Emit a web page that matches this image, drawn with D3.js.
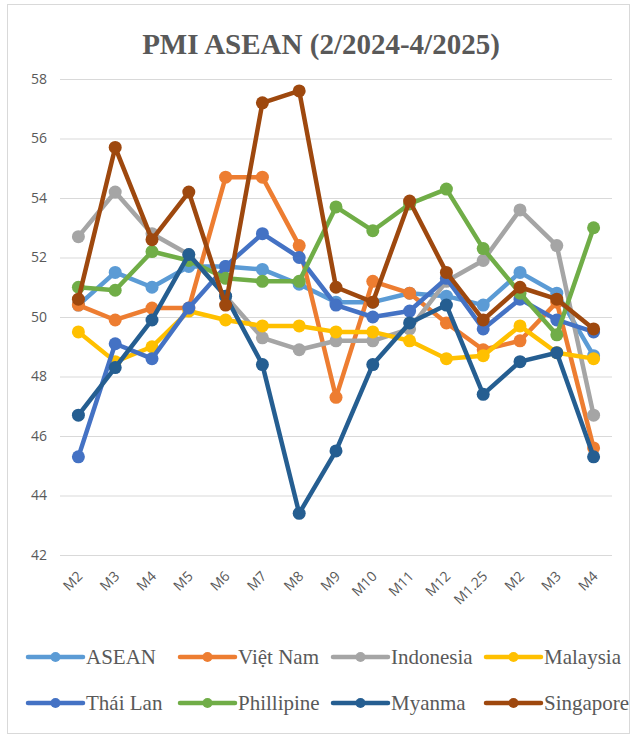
<!DOCTYPE html>
<html>
<head>
<meta charset="utf-8">
<script src="https://cdn.jsdelivr.net/npm/d3@7"></script>
<style>
  body { margin: 0; background: #fff; }
  svg { display: block; }
</style>
</head>
<body>
<svg id="chart" width="635" height="738"></svg>
<script>
/* PMI ASEAN line chart */

const months = ['M2', 'M3', 'M4', 'M5', 'M6', 'M7', 'M8', 'M9', 'M10', 'M11', 'M12', 'M1.25', 'M2', 'M3', 'M4'];
const yTicks = [42, 44, 46, 48, 50, 52, 54, 56, 58];

const asean     = [50.4, 51.5, 51.0, 51.7, 51.7, 51.6, 51.1, 50.5, 50.5, 50.8, 50.7, 50.4, 51.5, 50.8, 48.7];
const vietnam   = [50.4, 49.9, 50.3, 50.3, 54.7, 54.7, 52.4, 47.3, 51.2, 50.8, 49.8, 48.9, 49.2, 50.5, 45.6];
const indonesia = [52.7, 54.2, 52.8, 52.1, 50.7, 49.3, 48.9, 49.2, 49.2, 49.6, 51.2, 51.9, 53.6, 52.4, 46.7];
const malaysia  = [49.5, 48.5, 49.0, 50.2, 49.9, 49.7, 49.7, 49.5, 49.5, 49.2, 48.6, 48.7, 49.7, 48.8, 48.6];
const thailand  = [45.3, 49.1, 48.6, 50.3, 51.7, 52.8, 52.0, 50.4, 50.0, 50.2, 51.3, 49.6, 50.6, 49.9, 49.5];
const philippines = [51.0, 50.9, 52.2, 51.9, 51.3, 51.2, 51.2, 53.7, 52.9, 53.8, 54.3, 52.3, 50.8, 49.4, 53.0];
const myanmar   = [46.7, 48.3, 49.9, 52.1, 50.7, 48.4, 43.4, 45.5, 48.4, 49.8, 50.4, 47.4, 48.5, 48.8, 45.3];
const singapore = [50.6, 55.7, 52.6, 54.2, 50.4, 57.2, 57.6, 51.0, 50.5, 53.9, 51.5, 49.9, 51.0, 50.6, 49.6];

const seriesNames = ['ASEAN', 'Việt Nam', 'Indonesia', 'Malaysia', 'Thái Lan', 'Phillipine', 'Myanma', 'Singapore'];
const seriesValues = [asean, vietnam, indonesia, malaysia, thailand, philippines, myanmar, singapore];
const seriesColors = ['#5B9BD5', '#ED7D31', '#A5A5A5', '#FFC000', '#4472C4', '#70AD47', '#255E91', '#9E480E'];

const svg = d3.select('#chart');
const textGray = '#595959';

// Outer chart border
svg.append('rect')
  .attr('x', 7.5).attr('y', 4.5)
  .attr('width', 622).attr('height', 729)
  .attr('fill', '#fff')
  .attr('stroke', '#d9d9d9')
  .attr('stroke-width', 1);

// Title
svg.append('text')
  .attr('x', 321).attr('y', 54)
  .attr('text-anchor', 'middle')
  .attr('font-family', '"Liberation Serif", "Times New Roman", serif')
  .attr('font-weight', 'bold')
  .attr('font-size', 29)
  .attr('fill', textGray)
  .text('PMI ASEAN (2/2024-4/2025)');

const plot = { left: 60, right: 612, top: 79, bottom: 555 };

const x = d3.scaleBand()
  .domain(d3.range(months.length))
  .range([plot.left, plot.right]);

const y = d3.scaleLinear()
  .domain([42, 58])
  .range([plot.bottom, plot.top]);

const cx = i => x(i) + x.bandwidth() / 2;

// Gridlines + y labels
const yAxis = d3.axisLeft(y)
  .tickValues(yTicks)
  .tickSize(-(plot.right - plot.left))
  .tickPadding(13)
  .tickFormat(d3.format('d'));

const yG = svg.append('g')
  .attr('transform', `translate(${plot.left},0)`)
  .call(yAxis);
yG.select('.domain').remove();
yG.selectAll('.tick line').attr('stroke', '#d9d9d9').attr('stroke-width', 1.2);
yG.selectAll('.tick text')
  .attr('font-family', '"Open Sans", "Liberation Sans", sans-serif')
  .attr('font-size', 14)
  .attr('fill', textGray);

// X labels (rotated)
const xAxis = d3.axisBottom(x)
  .tickSize(0)
  .tickFormat(i => months[i]);

const xG = svg.append('g')
  .attr('transform', `translate(0,${plot.bottom})`)
  .call(xAxis);
xG.select('.domain').remove();
xG.selectAll('.tick text')
  .attr('font-family', '"Open Sans", "Liberation Sans", sans-serif')
  .attr('font-size', 14)
  .attr('fill', textGray)
  .attr('text-anchor', 'end')
  .attr('dy', 0)
  .attr('transform', 'translate(3,20) rotate(-45)');

// Lines
const line = d3.line()
  .x((d, i) => cx(i))
  .y(d => y(d));

const seriesG = svg.append('g');
seriesValues.forEach((vals, k) => {
  const g = seriesG.append('g');
  g.append('path')
    .datum(vals)
    .attr('d', line)
    .attr('fill', 'none')
    .attr('stroke', seriesColors[k])
    .attr('stroke-width', 4.5)
    .attr('stroke-linejoin', 'round');
  g.selectAll('circle')
    .data(vals)
    .join('circle')
    .attr('cx', (d, i) => cx(i))
    .attr('cy', d => y(d))
    .attr('r', 6.5)
    .attr('fill', seriesColors[k]);
});

// Legend
const legendCols = [28, 180, 333, 486];
const legendRows = [657, 703];
const legend = svg.append('g');
seriesNames.forEach((name, k) => {
  const lx = legendCols[k % 4];
  const ly = legendRows[Math.floor(k / 4)];
  const item = legend.append('g').attr('transform', `translate(${lx},${ly})`);
  item.append('line')
    .attr('x1', 0).attr('x2', 55)
    .attr('y1', 0).attr('y2', 0)
    .attr('stroke', seriesColors[k])
    .attr('stroke-width', 4.5)
    .attr('stroke-linecap', 'round');
  item.append('circle')
    .attr('cx', 27.5).attr('cy', 0)
    .attr('r', 5)
    .attr('fill', seriesColors[k]);
  item.append('text')
    .attr('x', 58).attr('y', 0)
    .attr('dy', '0.35em')
    .attr('font-family', '"Liberation Serif", "Times New Roman", serif')
    .attr('font-size', 21)
    .attr('fill', textGray)
    .text(name);
});
</script>
</body>
</html>
